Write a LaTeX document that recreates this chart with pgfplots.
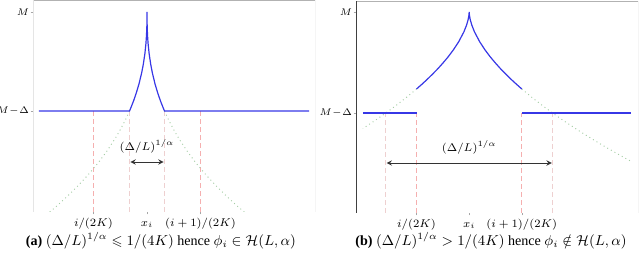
\documentclass[border=0pt]{standalone}
\usepackage{pgfplots}
\usepackage{amssymb}
\usepackage{fontspec}
\setmainfont{Liberation Serif}
\pgfplotsset{compat=1.18}
\definecolor{bl}{RGB}{55,55,230}
\definecolor{gr}{RGB}{165,205,165}
\definecolor{rd}{RGB}{245,175,175}
\definecolor{pk}{RGB}{238,208,208}
\pgfplotsset{
  panel/.style={
    anchor=south west, scale only axis,
    width=176.25pt, height=132.5pt,
    axis line style={draw=none},
    xtick={-1,0,1}, ytick={0,1},
    yticklabels={$M\!-\!\Delta$,$M$},
    xtick pos=bottom, ytick pos=left,
    tick align=outside, major tick length=1.5pt,
    tick style={gray!70, line width=0.3pt},
    ticklabel style={font=\fontsize{6.6}{8}\selectfont},
    yticklabel style={inner sep=0.8pt, font=\fontsize{6.4}{8}\selectfont},
    xticklabel style={anchor=base, yshift=-7.5pt},
    clip=true,
  },
  blue line/.style={bl, line width=0.75pt, no marks},
  green line/.style={gr, line width=0.6pt, dotted, no marks},
}
\begin{document}
\begin{tikzpicture}
\path[use as bounding box] (0,0) rectangle (400pt,161.875pt);
% ---------------- panel (a)
\begin{axis}[panel, at={(20.625pt,29.375pt)},
  xmin=-2.131, xmax=3.140, ymin=-1.020, ymax=1.121,
  xticklabels={$i/(2K)$,$x_i$,$(i+1)/(2K)$}]
\draw[gray!60, line width=0.6pt] (rel axis cs:0,1) -- (rel axis cs:1,1) -- (rel axis cs:1,0);
\draw[gray!20, line width=0.4pt] (rel axis cs:0,0) -- (rel axis cs:0,1);
\addplot[rd, densely dashed, line width=0.4pt] coordinates {(-1,-1.02) (-1,0)};
\addplot[rd, densely dashed, line width=0.4pt] coordinates {(1,-1.02) (1,0)};
\addplot[pk, densely dashed, line width=0.4pt] coordinates {(-0.327,-1.02) (-0.327,0)};
\addplot[pk, densely dashed, line width=0.4pt] coordinates {(0.327,-1.02) (0.327,0)};
\addplot[green line] coordinates {(-0.327,0) (-0.4,-0.086) (-0.5,-0.190) (-0.6,-0.2825) (-0.75,-0.405) (-0.9,-0.515) (-1.1,-0.644) (-1.3,-0.761) (-1.5,-0.867) (-1.7,-0.966) (-1.82,-1.0215)};
\addplot[green line] coordinates {(0.327,0) (0.4,-0.086) (0.5,-0.190) (0.6,-0.2825) (0.75,-0.405) (0.9,-0.515) (1.1,-0.644) (1.3,-0.761) (1.5,-0.867) (1.7,-0.966) (1.82,-1.0215)};
\addplot[blue line] coordinates {(-2.02,0) (-0.327,0) (-0.3,0.035) (-0.25,0.104) (-0.2,0.183) (-0.15,0.273) (-0.1,0.385) (-0.07,0.469) (-0.04,0.578) (-0.02,0.682) (-0.01,0.761) (-0.003,0.854) (0,1) (0.003,0.854) (0.01,0.761) (0.02,0.682) (0.04,0.578) (0.07,0.469) (0.1,0.385) (0.15,0.273) (0.2,0.183) (0.25,0.104) (0.3,0.035) (0.327,0) (3.03,0)};
\addplot[<->, >=stealth, black!80, line width=0.5pt] coordinates {(-0.31,-0.515) (0.31,-0.515)};
\node[font=\fontsize{6.6}{8}\selectfont] at (axis cs:0,-0.354) {$(\Delta/L)^{1/\alpha}$};
\draw[black!75, line width=0.6pt] (rel axis cs:0,0) -- (rel axis cs:1,0);
\end{axis}
% ---------------- panel (b)
\begin{axis}[panel, at={(222.5pt,28.75pt)},
  xmin=-2.151, xmax=3.208, ymin=-0.990, ymax=1.109,
  xticklabels={$i/(2K)$,$x_i$,$(i+1)/(2K)$}]
\draw[gray!60, line width=0.6pt] (rel axis cs:0,1) -- (rel axis cs:1,1) -- (rel axis cs:1,0);
\addplot[rd, densely dashed, line width=0.4pt] coordinates {(-1,-0.99) (-1,0)};
\addplot[rd, densely dashed, line width=0.4pt] coordinates {(1,-0.99) (1,0)};
\addplot[pk, densely dashed, line width=0.4pt] coordinates {(-1.585,-0.99) (-1.585,0)};
\addplot[pk, densely dashed, line width=0.4pt] coordinates {(1.585,-0.99) (1.585,0)};
\addplot[green line] coordinates {(-1,0.238) (-1.2,0.1514) (-1.4,0.0706) (-1.585,0) (-1.8,-0.0779) (-2.02,-0.1538)};
\addplot[green line] coordinates {(1,0.238) (1.2,0.1514) (1.4,0.0706) (1.585,0) (1.8,-0.0779) (2.02,-0.1538) (2.2,-0.2134) (2.4,-0.2774) (2.6,-0.3391) (2.8,-0.3989) (3.06,-0.4742)};
\addplot[blue line] coordinates {(-2.02,0) (-1,0)};
\addplot[blue line] coordinates {(1,0) (3.075,0)};
\addplot[blue line] coordinates {(-1,0.238) (-0.9,0.284) (-0.8,0.332) (-0.7,0.383) (-0.6,0.436) (-0.5,0.494) (-0.4,0.556) (-0.3,0.6255) (-0.2,0.705) (-0.1,0.804) (-0.05,0.870) (-0.02,0.924) (-0.005,0.967) (0,1) (0.005,0.967) (0.02,0.924) (0.05,0.870) (0.1,0.804) (0.2,0.705) (0.3,0.6255) (0.4,0.556) (0.5,0.494) (0.6,0.436) (0.7,0.383) (0.8,0.332) (0.9,0.284) (1,0.238)};
\addplot[<->, >=stealth, black!80, line width=0.5pt] coordinates {(-1.57,-0.495) (1.57,-0.495)};
\node[font=\fontsize{6.6}{8}\selectfont] at (axis cs:0,-0.337) {$(\Delta/L)^{1/\alpha}$};
\draw[black!75, line width=0.6pt] (rel axis cs:0,0) -- (rel axis cs:1,0);
\draw[black!75, line width=0.6pt] (rel axis cs:0,0) -- (rel axis cs:0,1);
\end{axis}
% ---------------- captions
\node[anchor=base, font=\fontsize{8.8}{10}\selectfont] at (100.6pt,8.3pt) {\textbf{(a)} $(\Delta/L)^{1/\alpha}\leqslant 1/(4K)$ hence $\phi_i\in\mathcal{H}(L,\alpha)$};
\node[anchor=base, font=\fontsize{8.8}{10}\selectfont] at (306.9pt,8.3pt) {\textbf{(b)} $(\Delta/L)^{1/\alpha}> 1/(4K)$ hence $\phi_i\notin\mathcal{H}(L,\alpha)$};
\end{tikzpicture}
\end{document}
